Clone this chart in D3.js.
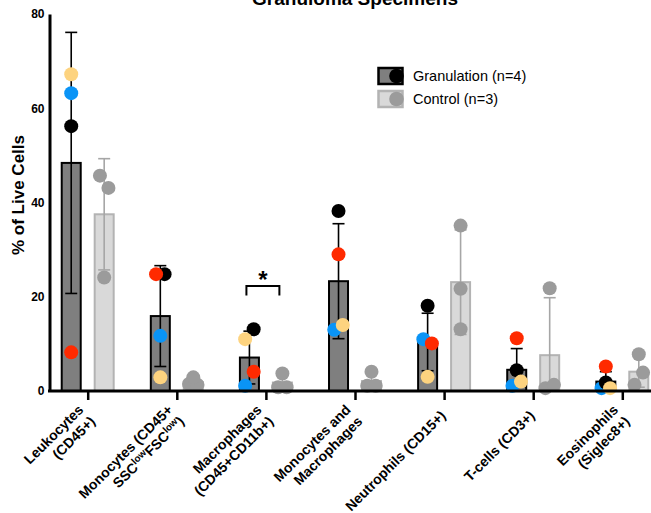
<!DOCTYPE html>
<html><head><meta charset="utf-8">
<script src="https://cdn.jsdelivr.net/npm/d3@7"></script>
<style>
body{margin:0;background:#fff}
text{font-family:"Liberation Sans",Arial,Helvetica,sans-serif}
</style>
</head><body>
<svg id="c" width="651" height="513"></svg>
<script>
// ---------- data ----------
const tickLabels = [
  ["Leukocytes", "(CD45+)"],
  ["Monocytes (CD45+", "SSC^{low}FSC^{low})"],
  ["Macrophages", "(CD45+CD11b+)"],
  ["Monocytes and", "Macrophages"],
  ["Neutrophils (CD15+)"],
  ["T-cells (CD3+)"],
  ["Eosinophils", "(Siglec8+)"]
];
const categories = tickLabels.map(l => l.join(" "));
const yTicks = [0, 20, 40, 60, 80];
const seriesNames = ["Granulation (n=4)", "Control (n=3)"];

const granMean = [48.4, 15.9, 7.1, 23.3, 10.4, 4.5, 2.0];
const granSD   = [27.7, 10.7, 5.6, 12.2, 6.1, 4.5, 2.1];
const ctrlMean = [37.5, 1.9, 1.8, 2.1, 23.1, 7.6, 4.1];
const ctrlSD   = [11.8, 0.9, 1.7, 1.7, 11.1, 12.2, 3.3];

// individual granulation specimens
const granBlack  = [56.2, 24.8, 13.1, 38.2, 18.1, 4.4, 1.8];
const granBlue   = [63.2, 11.7, 1.1, 13.0, 11.0, 1.1, 0.6];
const granRed    = [8.2, 24.8, 4.1, 29.0, 10.1, 11.2, 5.2];
const granYellow = [67.2, 2.9, 11.0, 14.0, 3.0, 2.0, 0.6];
// individual control specimens
const ctrl1 = [45.7, 1.5, 0.8, 1.1, 35.1, 0.6, 7.8];
const ctrl2 = [43.1, 1.3, 0.8, 1.1, 21.7, 1.3, 1.3];
const ctrl3 = [24.1, 2.9, 3.7, 4.1, 13.1, 21.8, 3.9];

const sigGroup = 2, sigLevel = 22.3;

// ---------- styles ----------
const C = {
  black: "#000000", blue: "#0a94f6", red: "#ff2a00", yellow: "#fdd37f",
  granFill: "#7f7f7f", granStroke: "#000000",
  ctrlFill: "#d9d9d9", ctrlStroke: "#b3b3b3", ctrlPt: "#9b9b9b", ctrlErr: "#a6a6a6"
};

const svg = d3.select("#c");
const y = d3.scaleLinear().domain([0, 80]).range([391, 14]);
const x = d3.scalePoint().domain(categories).range([87.7, 622.3]);
const step = x.step();
const off = step * 0.185, bw = 19, R = 7;

// ---------- title ----------
svg.append("text").attr("x", 355).attr("y", 5).attr("text-anchor", "middle")
  .attr("font-weight", "bold").attr("font-size", 19).text("Granuloma Specimens");

// ---------- y axis ----------
const ya = svg.append("g").attr("transform", "translate(49.5,0)")
  .call(d3.axisLeft(y).tickValues(yTicks).tickSize(0).tickSizeOuter(0).tickPadding(5));
ya.select(".domain").attr("stroke", "#000").attr("stroke-width", 3);
ya.selectAll("text").attr("font-weight", "bold").attr("font-size", 12)
  .attr("font-family", '"Liberation Sans",Arial,sans-serif').attr("fill", "#000");

svg.append("text").attr("transform", "translate(24,195) rotate(-90)")
  .attr("text-anchor", "middle").attr("font-weight", "bold").attr("font-size", 17)
  .text("% of Live Cells");

// ---------- bars ----------
const g = svg.append("g");
categories.forEach((cat, i) => {
  const cx = x(cat);
  g.append("rect").attr("x", cx - off - bw / 2).attr("y", y(granMean[i]))
    .attr("width", bw).attr("height", y(0) - y(granMean[i]))
    .attr("fill", C.granFill).attr("stroke", C.granStroke).attr("stroke-width", 2);
  g.append("rect").attr("x", cx + off - bw / 2).attr("y", y(ctrlMean[i]))
    .attr("width", bw).attr("height", y(0) - y(ctrlMean[i]))
    .attr("fill", C.ctrlFill).attr("stroke", C.ctrlStroke).attr("stroke-width", 2);
});

// ---------- error bars ----------
function errBar(cx, m, sd, col) {
  const top = m + sd, bot = Math.max(0, m - sd);
  g.append("line").attr("x1", cx).attr("x2", cx).attr("y1", y(top)).attr("y2", y(bot))
    .attr("stroke", col).attr("stroke-width", 1.6);
  g.append("line").attr("x1", cx - 6).attr("x2", cx + 6).attr("y1", y(top)).attr("y2", y(top))
    .attr("stroke", col).attr("stroke-width", 1.6);
  if (m - sd > 0)
    g.append("line").attr("x1", cx - 6).attr("x2", cx + 6).attr("y1", y(bot)).attr("y2", y(bot))
      .attr("stroke", col).attr("stroke-width", 1.6);
}
categories.forEach((cat, i) => {
  errBar(x(cat) - off, granMean[i], granSD[i], "#000");
  errBar(x(cat) + off, ctrlMean[i], ctrlSD[i], C.ctrlErr);
});

// ---------- points ----------
function jitter(vals, rank) {
  const n = vals.length, offs = new Array(n).fill(0), used = new Set(), pairs = [];
  for (let i = 0; i < n; i++) for (let j = i + 1; j < n; j++) {
    const d = Math.abs(y(vals[i]) - y(vals[j]));
    if (d < 14.5) pairs.push([d, i, j]);
  }
  pairs.sort((a, b) => a[0] - b[0]);
  for (const [d, i, j] of pairs) {
    if (used.has(i) || used.has(j)) continue;
    used.add(i); used.add(j);
    const [l, r] = rank[i] <= rank[j] ? [i, j] : [j, i];
    offs[l] = -4.25; offs[r] = 4.25;
  }
  return offs;
}
const granSeries = [granBlack, granBlue, granRed, granYellow];
const granColors = [C.black, C.blue, C.red, C.yellow];
const granRank = [3, 0, 1, 2];
const granDraw = [1, 0, 2, 3];
const ctrlSeries = [ctrl1, ctrl2, ctrl3];

categories.forEach((cat, i) => {
  const gx = x(cat) - off;
  const gv = granSeries.map(s => s[i]);
  const go = jitter(gv, granRank);
  granDraw.forEach(k => {
    g.append("circle").attr("cx", gx + go[k]).attr("cy", y(gv[k])).attr("r", R).attr("fill", granColors[k]);
  });
  const cxp = x(cat) + off;
  const cv = ctrlSeries.map(s => s[i]);
  const co = jitter(cv, [0, 1, 2]);
  cv.forEach((v, k) => {
    g.append("circle").attr("cx", cxp + co[k]).attr("cy", y(v)).attr("r", R).attr("fill", C.ctrlPt);
  });
});

// ---------- x axis ----------
const xa = svg.append("g").attr("transform", `translate(0,${y(0)})`)
  .call(d3.axisBottom(x).tickSizeInner(9).tickSizeOuter(0).tickFormat(""));
xa.select(".domain").attr("d", "M48,0H651").attr("stroke", "#000").attr("stroke-width", 3);
xa.selectAll(".tick line").attr("stroke", "#000").attr("stroke-width", 2.5);

// tick labels
const fs = 14, lh = 16.5;
tickLabels.forEach((lines, i) => {
  const t = svg.append("text")
    .attr("transform", `translate(${x(categories[i]) - 1},413) rotate(-45)`)
    .attr("text-anchor", "end").attr("font-weight", "bold").attr("font-size", fs);
  lines.forEach((ln, li) => {
    const yy = (li - (lines.length - 1) / 2) * lh + fs * 0.35;
    const parts = ln.split(/(\^\{[^}]*\})/).filter(p => p.length);
    let first = true;
    parts.forEach(p => {
      const sup = p.startsWith("^{");
      const ts = t.append("tspan").text(sup ? p.slice(2, -1) : p);
      if (first) { ts.attr("x", 0).attr("y", yy); first = false; }
      if (sup) ts.attr("font-size", fs * 0.7).attr("dy", -5);
      else if (ts.node().previousSibling && ts.node().previousSibling.getAttribute("dy") === "-5") ts.attr("dy", 5);
    });
  });
});

// ---------- significance ----------
const sx = x(categories[sigGroup]);
svg.append("path")
  .attr("d", `M${sx - off - 3},${y(sigLevel) + 9.5}V${y(sigLevel)}H${sx + off - 3}V${y(sigLevel) + 9.5}`)
  .attr("fill", "none").attr("stroke", "#000").attr("stroke-width", 2);
svg.append("text").attr("x", sx - 3).attr("y", y(sigLevel) + 2).attr("text-anchor", "middle")
  .attr("font-weight", "bold").attr("font-size", 24).text("*");

// ---------- legend ----------
const lg = svg.append("g");
[[C.granFill, C.granStroke, C.black], [C.ctrlFill, C.ctrlStroke, C.ctrlPt]].forEach((c, k) => {
  const yy = 68 + k * 23;
  lg.append("rect").attr("x", 378.5).attr("y", yy).attr("width", 24).attr("height", 16)
    .attr("fill", c[0]).attr("stroke", c[1]).attr("stroke-width", 2.5);
  lg.append("circle").attr("cx", 396.5).attr("cy", yy + 8).attr("r", 7.3).attr("fill", c[2]);
  lg.append("text").attr("x", 413).attr("y", yy + 12.5).attr("font-size", 14.5).text(seriesNames[k]);
});
</script>
</body></html>
